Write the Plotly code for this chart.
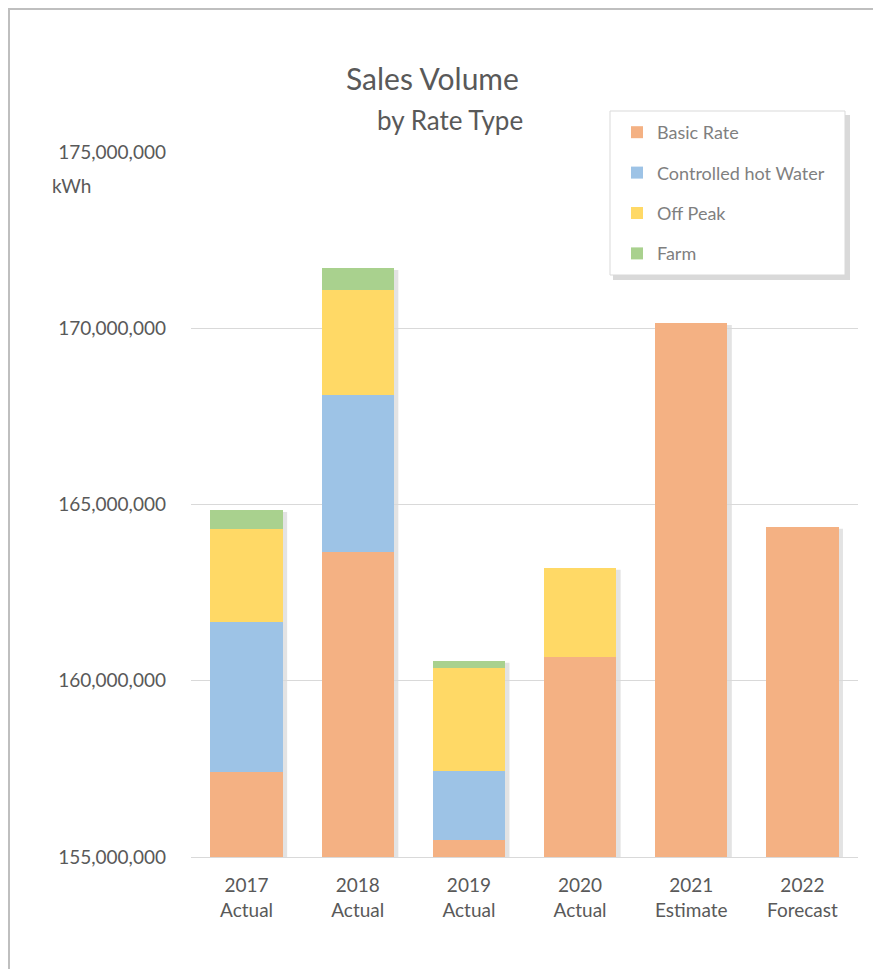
import plotly.graph_objects as go

# datos (kWh)
categorias = ["2017<br>Actual", "2018<br>Actual", "2019<br>Actual",
              "2020<br>Actual", "2021<br>Estimate", "2022<br>Forecast"]
basic_rate = [157410000, 163650000, 155480000, 160670000, 170140000, 164360000]
controlled_hot_water = [4250000, 4450000, 1960000, 0, 0, 0]
off_peak = [2640000, 2980000, 2920000, 2530000, 0, 0]
farm = [540000, 620000, 200000, 0, 0, 0]

series = [
    ("Basic Rate", basic_rate, "#F4B183"),
    ("Controlled hot Water", controlled_hot_water, "#9DC3E6"),
    ("Off Peak", off_peak, "#FFD966"),
    ("Farm", farm, "#A9D18E"),
]

# la pagina tiene 8px de margen en el body
OFF = 8
W, H = 881 - OFF, 969 - OFF
L, R, T, B = 191 - OFF, 23, 152 - OFF, 112
pw, ph = W - L - R, H - T - B


def px(x):
    # x en pixeles de pagina -> coordenada paper
    return (x - OFF - L) / pw


def py(y):
    return (H - B - (y - OFF)) / ph


fig = go.Figure()
for nombre, valores, color in series:
    fig.add_trace(go.Bar(
        x=categorias, y=valores, name=nombre, legendgroup=nombre,
        marker=dict(color=color, line=dict(width=0)),
        hoverinfo="name+y"
    ))

# sombras de las barras, a partir de los totales
totales = [sum(v) for v in zip(basic_rate, controlled_hot_water, off_peak, farm)]
shapes = []
for i, tot in enumerate(totales):
    shapes.append(dict(
        type="rect", xref="x", yref="y", layer="below",
        x0=i - 0.325 + 0.04, x1=i + 0.325 + 0.04,
        y0=155000000, y1=tot - 50000,
        fillcolor="rgba(0,0,0,0.11)", line=dict(width=0)
    ))

# recuadro exterior del grafico
shapes.append(dict(type="rect", xref="paper", yref="paper",
                   x0=px(9), x1=px(900), y0=py(990), y1=py(9),
                   line=dict(color="#bfbfbf", width=2), fillcolor="rgba(0,0,0,0)"))
# caja de la leyenda con sombra
shapes.append(dict(type="rect", xref="paper", yref="paper", layer="above",
                   x0=px(613), x1=px(850), y0=py(280), y1=py(115),
                   fillcolor="rgba(0,0,0,0.15)", line=dict(width=0)))
shapes.append(dict(type="rect", xref="paper", yref="paper", layer="above",
                   x0=px(610), x1=px(845), y0=py(275), y1=py(111),
                   fillcolor="white", line=dict(color="#d9d9d9", width=1)))

fig.update_layout(
    width=W, height=H,
    margin=dict(l=L, r=R, t=T, b=B),
    barmode="stack", bargap=0.35,
    plot_bgcolor="white", paper_bgcolor="white",
    font=dict(family="Lato", color="#595959", size=19),
    showlegend=True,
    legend=dict(
        x=px(617), y=py(114), xanchor="left", yanchor="top",
        traceorder="grouped", tracegroupgap=14,
        bgcolor="rgba(0,0,0,0)", borderwidth=0,
        font=dict(size=18, color="#7f7f7f")
    ),
    shapes=shapes,
    annotations=[
        dict(text="Sales Volume", xref="paper", yref="paper", x=px(432), y=py(78),
             xanchor="center", yanchor="middle",
             showarrow=False, font=dict(size=30, color="#595959")),
        dict(text="by Rate Type", xref="paper", yref="paper", x=px(450), y=py(120),
             xanchor="center", yanchor="middle",
             showarrow=False, font=dict(size=26, color="#595959")),
        dict(text="kWh", xref="paper", yref="paper", x=px(50), y=py(186),
             xanchor="left", yanchor="middle",
             showarrow=False, font=dict(size=19, color="#595959")),
    ],
    yaxis=dict(
        range=[155000000, 175000000], dtick=5000000,
        tickformat=",d", showgrid=True, gridcolor="#d9d9d9", gridwidth=1.3,
        zeroline=False, showline=False, ticklabelstandoff=24,
        tickfont=dict(size=19, color="#595959")
    ),
    xaxis=dict(
        showline=True, linecolor="#d9d9d9", linewidth=1.3,
        ticks="", ticklabelstandoff=11, tickfont=dict(size=19, color="#595959")
    ),
)

fig.write_html("out.html")
